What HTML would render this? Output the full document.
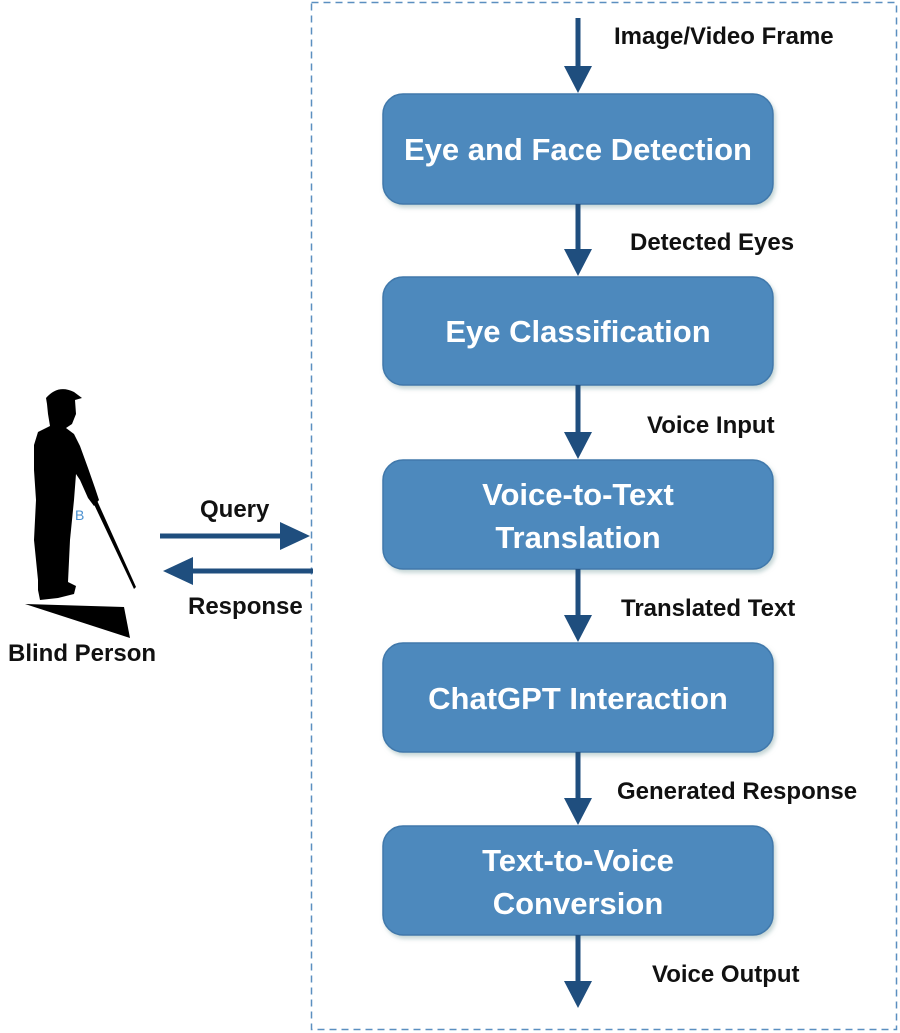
<!DOCTYPE html>
<html><head><style>
body{margin:0;background:#fff;}
svg{display:block;}
.lbl{font-family:"Liberation Sans",sans-serif;font-weight:bold;font-size:24px;fill:#111;}
.bx{font-family:"Liberation Sans",sans-serif;font-weight:bold;font-size:31px;fill:#fff;text-anchor:middle;}
</style></head><body>
<svg width="900" height="1033" viewBox="0 0 900 1033">
<defs>
<filter id="sh" x="-10%" y="-10%" width="120%" height="130%"><feDropShadow dx="2" dy="3" stdDeviation="2" flood-color="#8aa" flood-opacity="0.5"/></filter>
</defs>
<rect x="311.5" y="2.5" width="585" height="1027" fill="none" stroke="#5b8fc0" stroke-width="1.5" stroke-dasharray="7,5"/>
<g fill="#4e89bd" stroke="#3f78ab" stroke-width="1.5" filter="url(#sh)">
<rect x="383" y="94" width="390" height="110" rx="20"/>
<rect x="383" y="277" width="390" height="108" rx="20"/>
<rect x="383" y="460" width="390" height="109" rx="20"/>
<rect x="383" y="643" width="390" height="109" rx="20"/>
<rect x="383" y="826" width="390" height="109" rx="20"/>
</g>
<text class="bx" x="578" y="160">Eye and Face Detection</text>
<text class="bx" x="578" y="342">Eye Classification</text>
<text class="bx" x="578" y="505">Voice-to-Text</text>
<text class="bx" x="578" y="548">Translation</text>
<text class="bx" x="578" y="709">ChatGPT Interaction</text>
<text class="bx" x="578" y="871">Text-to-Voice</text>
<text class="bx" x="578" y="914">Conversion</text>
<g stroke="#1f4e7e" stroke-width="5" fill="#1f4e7e">
<line x1="578" y1="18" x2="578" y2="70"/>
<line x1="578" y1="204" x2="578" y2="253"/>
<line x1="578" y1="385" x2="578" y2="436"/>
<line x1="578" y1="569" x2="578" y2="619"/>
<line x1="578" y1="752" x2="578" y2="802"/>
<line x1="578" y1="935" x2="578" y2="985"/>
<line x1="160" y1="536" x2="285" y2="536"/>
<line x1="313" y1="571" x2="188" y2="571"/>
</g>
<g fill="#1f4e7e">
<polygon points="564,66 592,66 578,93"/>
<polygon points="564,249 592,249 578,276"/>
<polygon points="564,432 592,432 578,459"/>
<polygon points="564,615 592,615 578,642"/>
<polygon points="564,798 592,798 578,825"/>
<polygon points="564,981 592,981 578,1008"/>
<polygon points="280,522 310,536 280,550"/>
<polygon points="193,557 163,571 193,585"/>
</g>
<text class="lbl" x="614" y="44">Image/Video Frame</text>
<text class="lbl" x="630" y="250">Detected Eyes</text>
<text class="lbl" x="647" y="433">Voice Input</text>
<text class="lbl" x="621" y="616">Translated Text</text>
<text class="lbl" x="617" y="799">Generated Response</text>
<text class="lbl" x="652" y="982">Voice Output</text>
<text class="lbl" x="200" y="517">Query</text>
<text class="lbl" x="188" y="614">Response</text>
<text class="lbl" x="8" y="661">Blind Person</text>
<g fill="#000">
<polygon points="25,604 124,607 130,638"/>
<path d="M46,398 Q58,384 74,392 L82,398 L75,400 L76,414 L72,424 L66,428 L74,434 L80,446 L88,468 L95,488 L99,500 L94,506 L88,498 L80,480 L76,474 L74,500 L70,540 L68,582 L76,586 L74,594 L58,598 L40,600 L38,590 L38,580 L34,540 L36,500 L34,470 L34,445 L38,432 L50,426 L48,414 L47,404 Z"/>
<polygon points="91,498 95,496 136,587 134,589"/>
</g>
<text x="75" y="520" font-family="Liberation Sans,sans-serif" font-size="14" fill="#4a90d0">B</text>
</svg>
</body></html>
